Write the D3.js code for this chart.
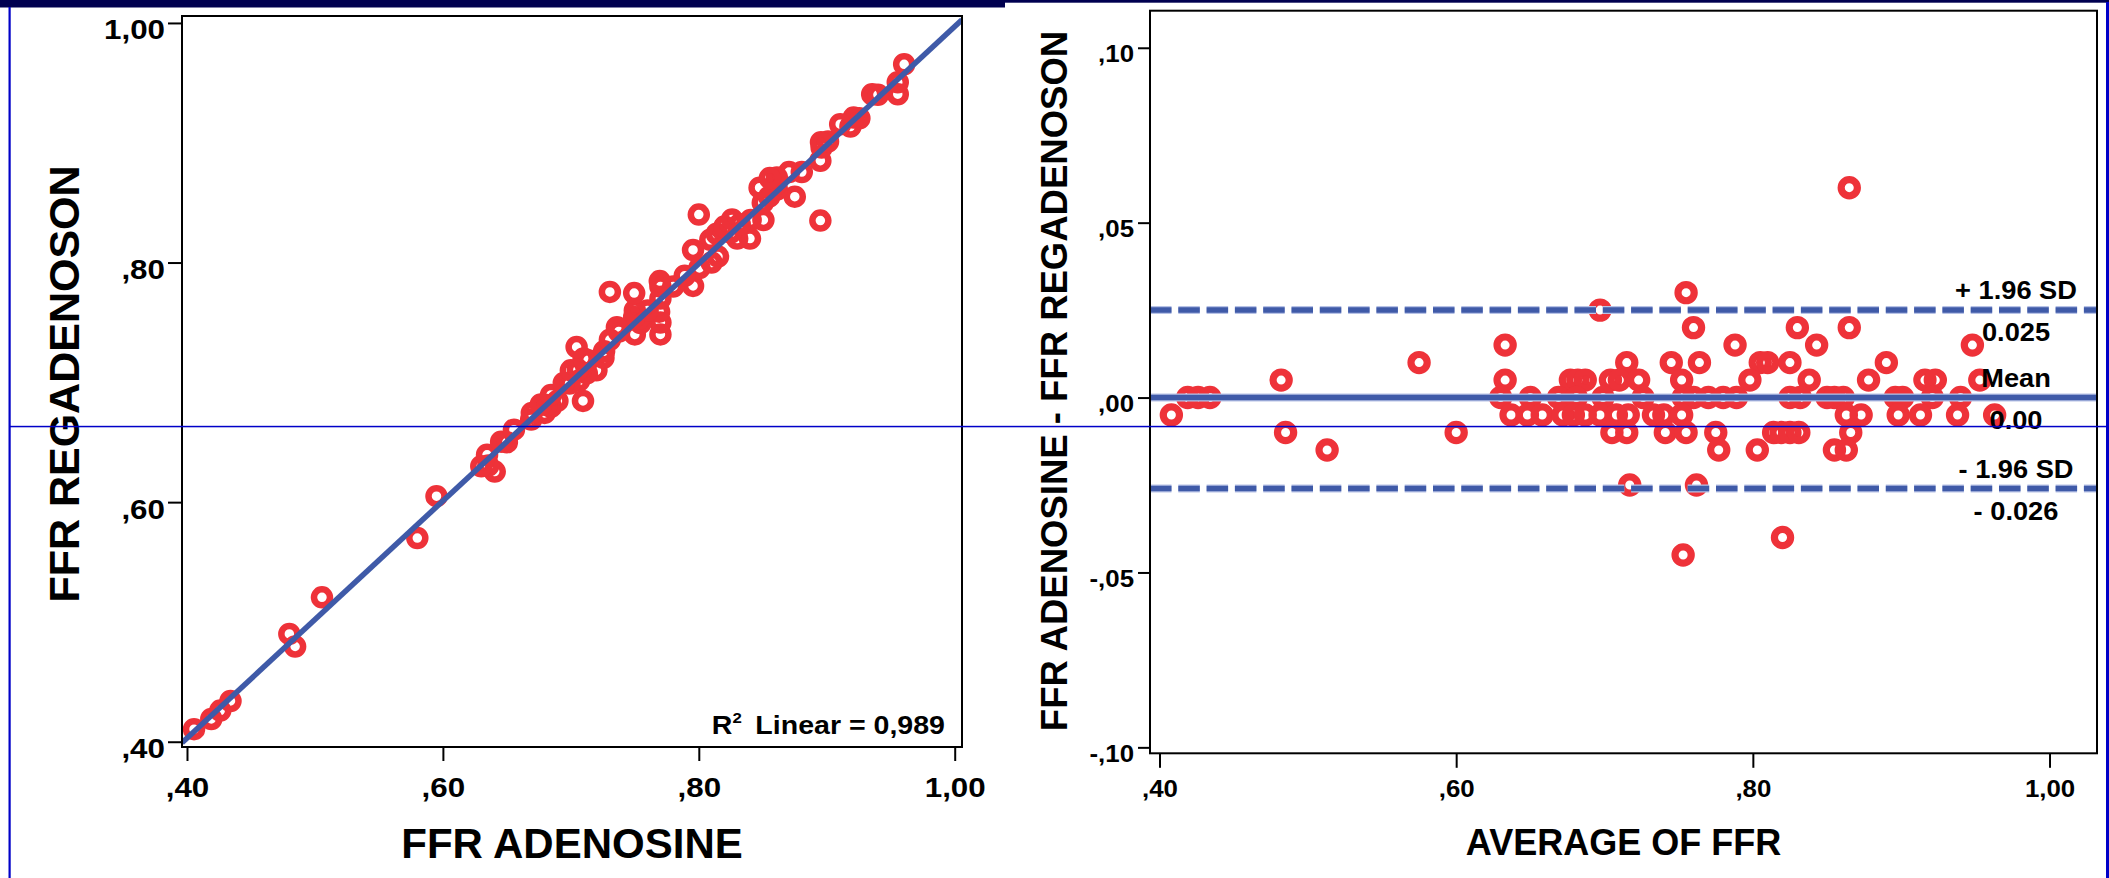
<!DOCTYPE html>
<html>
<head>
<meta charset="utf-8">
<script src="https://cdn.jsdelivr.net/npm/d3@7"></script>
<style>
  html, body { margin: 0; padding: 0; background: #fff; }
  svg { display: block; }
  text { font-family: "Liberation Sans", Arial, sans-serif; font-weight: bold; fill: #000; }
</style>
</head>
<body>
<svg id="chart" width="2109" height="878"></svg>
<script>
// ---- Data: FFR measured with adenosine and with regadenoson (one entry per lesion) ----
const ffrAdenosine = [
  0.895, 0.770, 0.7095, 0.770, 0.840, 0.875, 0.6405, 0.7955, 0.8505, 0.9555,
  0.580, 0.720, 0.750, 0.769, 0.810, 0.815, 0.830, 0.895,
  0.4845, 0.6355, 0.6795, 0.6845, 0.6895, 0.7065, 0.7125, 0.7255, 0.7545, 0.8005, 0.8405, 0.8805, 0.9185, 0.9255, 0.9555,
  0.419, 0.426, 0.434, 0.630, 0.650, 0.669, 0.681, 0.699, 0.726, 0.753, 0.760, 0.770, 0.780, 0.789, 0.825, 0.832, 0.850, 0.855, 0.861, 0.896, 0.901, 0.921, 0.940,
  0.4055, 0.6345, 0.6455, 0.6555, 0.6695, 0.6765, 0.6845, 0.6945, 0.7055, 0.7135, 0.7305, 0.7375, 0.7495, 0.8605, 0.8705, 0.8955, 0.9105, 0.9355, 0.9605,
  0.480, 0.595, 0.700, 0.710, 0.736, 0.750, 0.770, 0.809, 0.814, 0.820, 0.826, 0.861,
  0.5055, 0.7695, 0.7955, 0.8475, 0.8555,
  0.7045, 0.7495,
  0.800, 0.7305
];
const ffrRegadenoson = [
  0.835, 0.740, 0.6845, 0.750, 0.820, 0.855, 0.6255, 0.7805, 0.8355, 0.9405,
  0.570, 0.710, 0.740, 0.759, 0.800, 0.805, 0.820, 0.885,
  0.4795, 0.6305, 0.6745, 0.6795, 0.6845, 0.7015, 0.7075, 0.7205, 0.7495, 0.7955, 0.8355, 0.8755, 0.9135, 0.9205, 0.9505,
  0.419, 0.426, 0.434, 0.630, 0.650, 0.669, 0.681, 0.699, 0.726, 0.753, 0.760, 0.770, 0.780, 0.789, 0.825, 0.832, 0.850, 0.855, 0.861, 0.896, 0.901, 0.921, 0.940,
  0.4105, 0.6395, 0.6505, 0.6605, 0.6745, 0.6815, 0.6895, 0.6995, 0.7105, 0.7185, 0.7355, 0.7425, 0.7545, 0.8655, 0.8755, 0.9005, 0.9155, 0.9405, 0.9655,
  0.490, 0.605, 0.710, 0.720, 0.746, 0.760, 0.780, 0.819, 0.824, 0.830, 0.836, 0.871,
  0.5205, 0.7845, 0.8105, 0.8625, 0.8705,
  0.7295, 0.7745,
  0.840, 0.7755
];

// ---- Bland-Altman: average of the two readings and adenosine minus regadenoson ----
const ffrAverage = [
  0.865, 0.755, 0.697, 0.760, 0.830, 0.865, 0.633, 0.788, 0.843, 0.948,
  0.575, 0.715, 0.745, 0.764, 0.805, 0.810, 0.825, 0.890,
  0.482, 0.633, 0.677, 0.682, 0.687, 0.704, 0.710, 0.723, 0.752, 0.798, 0.838, 0.878, 0.916, 0.923, 0.953,
  0.419, 0.426, 0.434, 0.630, 0.650, 0.669, 0.681, 0.699, 0.726, 0.753, 0.760, 0.770, 0.780, 0.789, 0.825, 0.832, 0.850, 0.855, 0.861, 0.896, 0.901, 0.921, 0.940,
  0.408, 0.637, 0.648, 0.658, 0.672, 0.679, 0.687, 0.697, 0.708, 0.716, 0.733, 0.740, 0.752, 0.863, 0.873, 0.898, 0.913, 0.938, 0.963,
  0.485, 0.600, 0.705, 0.715, 0.741, 0.755, 0.775, 0.814, 0.819, 0.825, 0.831, 0.866,
  0.513, 0.777, 0.803, 0.855, 0.863,
  0.717, 0.762,
  0.820, 0.753
];
const ffrDifference = [
  0.060, 0.030, 0.025, 0.020, 0.020, 0.020, 0.015, 0.015, 0.015, 0.015,
  0.010, 0.010, 0.010, 0.010, 0.010, 0.010, 0.010, 0.010,
  0.005, 0.005, 0.005, 0.005, 0.005, 0.005, 0.005, 0.005, 0.005, 0.005, 0.005, 0.005, 0.005, 0.005, 0.005,
  0, 0, 0, 0, 0, 0, 0, 0, 0, 0, 0, 0, 0, 0, 0, 0, 0, 0, 0, 0, 0, 0, 0,
  -0.005, -0.005, -0.005, -0.005, -0.005, -0.005, -0.005, -0.005, -0.005, -0.005, -0.005, -0.005, -0.005, -0.005, -0.005, -0.005, -0.005, -0.005, -0.005,
  -0.010, -0.010, -0.010, -0.010, -0.010, -0.010, -0.010, -0.010, -0.010, -0.010, -0.010, -0.010,
  -0.015, -0.015, -0.015, -0.015, -0.015,
  -0.025, -0.025,
  -0.040, -0.045
];

// ---- Regression line (linear fit of regadenoson on adenosine) ----
const fitCoefficients = [0.007, 0.99];   // intercept, slope
const rSquaredText = "0,989";

// ---- Agreement limits ----
const limitValues = [0.025, 0.00, -0.026];
const limitNames = ["+ 1.96 SD", "Mean", "- 1.96 SD"];
const limitValueLabels = ["0.025", "0.00", "- 0.026"];
const limitDashed = [true, false, true];

// ---- Axis ticks ----
const scatterTicks = [0.4, 0.6, 0.8, 1.0];
const scatterTickLabels = [",40", ",60", ",80", "1,00"];
const baTicksX = [0.4, 0.6, 0.8, 1.0];
const baTickLabelsX = [",40", ",60", ",80", "1,00"];
const baTicksY = [0.10, 0.05, 0.00, -0.05, -0.10];
const baTickLabelsY = [",10", ",05", ",00", "-,05", "-,10"];

// ---- Layout ----
const RED = "#ee3239";
const BLUE = "#3f5aa8";
const svg = d3.select("#chart");

const L = { x0: 182, x1: 962, y0: 16, y1: 747 };
const R = { x0: 1150, x1: 2097, y0: 10.7, y1: 753.3 };

const xL = d3.scaleLinear().domain([0.3961, 1.0057]).range([L.x0, L.x1]);
const yL = d3.scaleLinear().domain([0.3956, 1.0058]).range([L.y1, L.y0]);
const xR = d3.scaleLinear().domain([0.3936, 1.032]).range([R.x0, R.x1]);
const yR = d3.scaleLinear().domain([-0.1017, 0.1106]).range([R.y1, R.y0]);

svg.append("rect").attr("width", 2109).attr("height", 878).attr("fill", "#fff");

const defs = svg.append("defs");
defs.append("clipPath").attr("id", "clipL")
  .append("rect").attr("x", L.x0).attr("y", L.y0).attr("width", L.x1 - L.x0).attr("height", L.y1 - L.y0);
defs.append("clipPath").attr("id", "clipR")
  .append("rect").attr("x", R.x0).attr("y", R.y0).attr("width", R.x1 - R.x0).attr("height", R.y1 - R.y0);

// axes: SPSS-style tick labels, slightly widened glyphs
function styleAxis(g, stretch, size, tx, ty, anchor) {
  g.select(".domain").remove();
  g.selectAll(".tick line").attr("stroke", "#000").attr("stroke-width", 2);
  g.selectAll(".tick text")
    .attr("font-size", size)
    .attr("font-family", "'Liberation Sans', Arial, sans-serif")
    .attr("font-weight", "bold")
    .attr("fill", "#000")
    .attr("text-anchor", anchor)
    .attr("transform", `scale(${stretch},1)`)
    .attr("x", tx / stretch)
    .attr("y", ty)
    .attr("dy", 0);
}

// ================= Left panel: scatter with fit line =================
const gLy = svg.append("g").attr("transform", `translate(${L.x0},0)`)
  .call(d3.axisLeft(yL).tickValues(scatterTicks).tickFormat((d, i) => scatterTickLabels[i]).tickSize(14).tickSizeOuter(0));
styleAxis(gLy, 1.12, 28, -17, 16, "end");

const gLx = svg.append("g").attr("transform", `translate(0,${L.y1})`)
  .call(d3.axisBottom(xL).tickValues(scatterTicks).tickFormat((d, i) => scatterTickLabels[i]).tickSize(14).tickSizeOuter(0));
styleAxis(gLx, 1.12, 28, 0, 50, "middle");

svg.append("g").attr("clip-path", "url(#clipL)")
  .selectAll("circle").data(d3.range(ffrAdenosine.length)).join("circle")
  .attr("cx", i => xL(ffrAdenosine[i]))
  .attr("cy", i => yL(ffrRegadenoson[i]))
  .attr("r", 8)
  .attr("fill", "none")
  .attr("stroke", RED)
  .attr("stroke-width", 6.5);

const xd = xL.domain();
svg.append("line").attr("clip-path", "url(#clipL)")
  .attr("x1", xL(xd[0])).attr("y1", yL(fitCoefficients[0] + fitCoefficients[1] * xd[0]))
  .attr("x2", xL(xd[1])).attr("y2", yL(fitCoefficients[0] + fitCoefficients[1] * xd[1]))
  .attr("stroke", BLUE).attr("stroke-width", 5.5);

svg.append("rect").attr("x", L.x0).attr("y", L.y0).attr("width", L.x1 - L.x0).attr("height", L.y1 - L.y0)
  .attr("fill", "none").attr("stroke", "#000").attr("stroke-width", 2);

const r2 = svg.append("text").attr("transform", "translate(945,734) scale(1.12,1)")
  .attr("text-anchor", "end").attr("font-size", 25.5);
r2.append("tspan").text("R");
r2.append("tspan").attr("font-size", 15).attr("dy", -11).text("2");
r2.append("tspan").attr("dy", 11).attr("dx", 5).text(" Linear = " + rSquaredText);

svg.append("text").attr("transform", "translate(79,384) rotate(-90)")
  .attr("text-anchor", "middle").attr("font-size", 43).text("FFR REGADENOSON");
svg.append("text").attr("x", (L.x0 + L.x1) / 2).attr("y", 858)
  .attr("text-anchor", "middle").attr("font-size", 42).text("FFR ADENOSINE");

// ================= Right panel: Bland-Altman =================
const gRy = svg.append("g").attr("transform", `translate(${R.x0},0)`)
  .call(d3.axisLeft(yR).tickValues(baTicksY).tickFormat((d, i) => baTickLabelsY[i]).tickSize(12).tickSizeOuter(0));
styleAxis(gRy, 1.1, 23.5, -16, 14, "end");

const gRx = svg.append("g").attr("transform", `translate(0,${R.y1})`)
  .call(d3.axisBottom(xR).tickValues(baTicksX).tickFormat((d, i) => baTickLabelsX[i]).tickSize(14.5).tickSizeOuter(0));
styleAxis(gRx, 1.1, 23.5, 0, 44, "middle");

svg.append("g").attr("clip-path", "url(#clipR)")
  .selectAll("circle").data(d3.range(ffrAverage.length)).join("circle")
  .attr("cx", i => xR(ffrAverage[i]))
  .attr("cy", i => yR(ffrDifference[i]))
  .attr("r", 8.1)
  .attr("fill", "none")
  .attr("stroke", RED)
  .attr("stroke-width", 7.2);

const limitG = svg.append("g").attr("clip-path", "url(#clipR)");
limitValues.forEach((v, i) => {
  limitG.append("line")
    .attr("x1", R.x0).attr("x2", R.x1).attr("y1", yR(v)).attr("y2", yR(v))
    .attr("stroke", "#b7c2e6").attr("stroke-width", 8)
    .attr("stroke-dasharray", limitDashed[i] ? "21.5,6.8" : null);
  limitG.append("line")
    .attr("x1", R.x0).attr("x2", R.x1).attr("y1", yR(v)).attr("y2", yR(v))
    .attr("stroke", BLUE).attr("stroke-width", 5.5)
    .attr("stroke-dasharray", limitDashed[i] ? "21.5,6.8" : null);
});

svg.append("rect").attr("x", R.x0).attr("y", R.y0).attr("width", R.x1 - R.x0).attr("height", R.y1 - R.y0)
  .attr("fill", "none").attr("stroke", "#000").attr("stroke-width", 2);

limitValues.forEach((v, i) => {
  svg.append("text").attr("transform", `translate(2016,${yR(v) - 11}) scale(1.09,1)`)
    .attr("text-anchor", "middle").attr("font-size", 25).text(limitNames[i]);
  svg.append("text").attr("transform", `translate(2016,${yR(v) + 31}) scale(1.09,1)`)
    .attr("text-anchor", "middle").attr("font-size", 25).text(limitValueLabels[i]);
});

svg.append("text").attr("transform", "translate(1067,381) rotate(-90)")
  .attr("text-anchor", "middle").attr("font-size", 36.5).text("FFR ADENOSINE - FFR REGADENOSON");
svg.append("text").attr("x", (R.x0 + R.x1) / 2).attr("y", 855)
  .attr("text-anchor", "middle").attr("font-size", 36).text("AVERAGE OF FFR");

// ================= Slide frame =================
svg.append("rect").attr("x", 0).attr("y", 0).attr("width", 1005).attr("height", 7.5).attr("fill", "#000050");
svg.append("rect").attr("x", 1005).attr("y", 0).attr("width", 1104).attr("height", 2.7).attr("fill", "#000050");
svg.append("rect").attr("x", 8.5).attr("y", 7).attr("width", 2.2).attr("height", 871).attr("fill", "#0000c8");
svg.append("rect").attr("x", 2106).attr("y", 2).attr("width", 3).attr("height", 876).attr("fill", "#0000c8");
svg.append("rect").attr("x", 9).attr("y", 425.8).attr("width", 2100).attr("height", 1.5).attr("fill", "#0000c8");
</script>
</body>
</html>
